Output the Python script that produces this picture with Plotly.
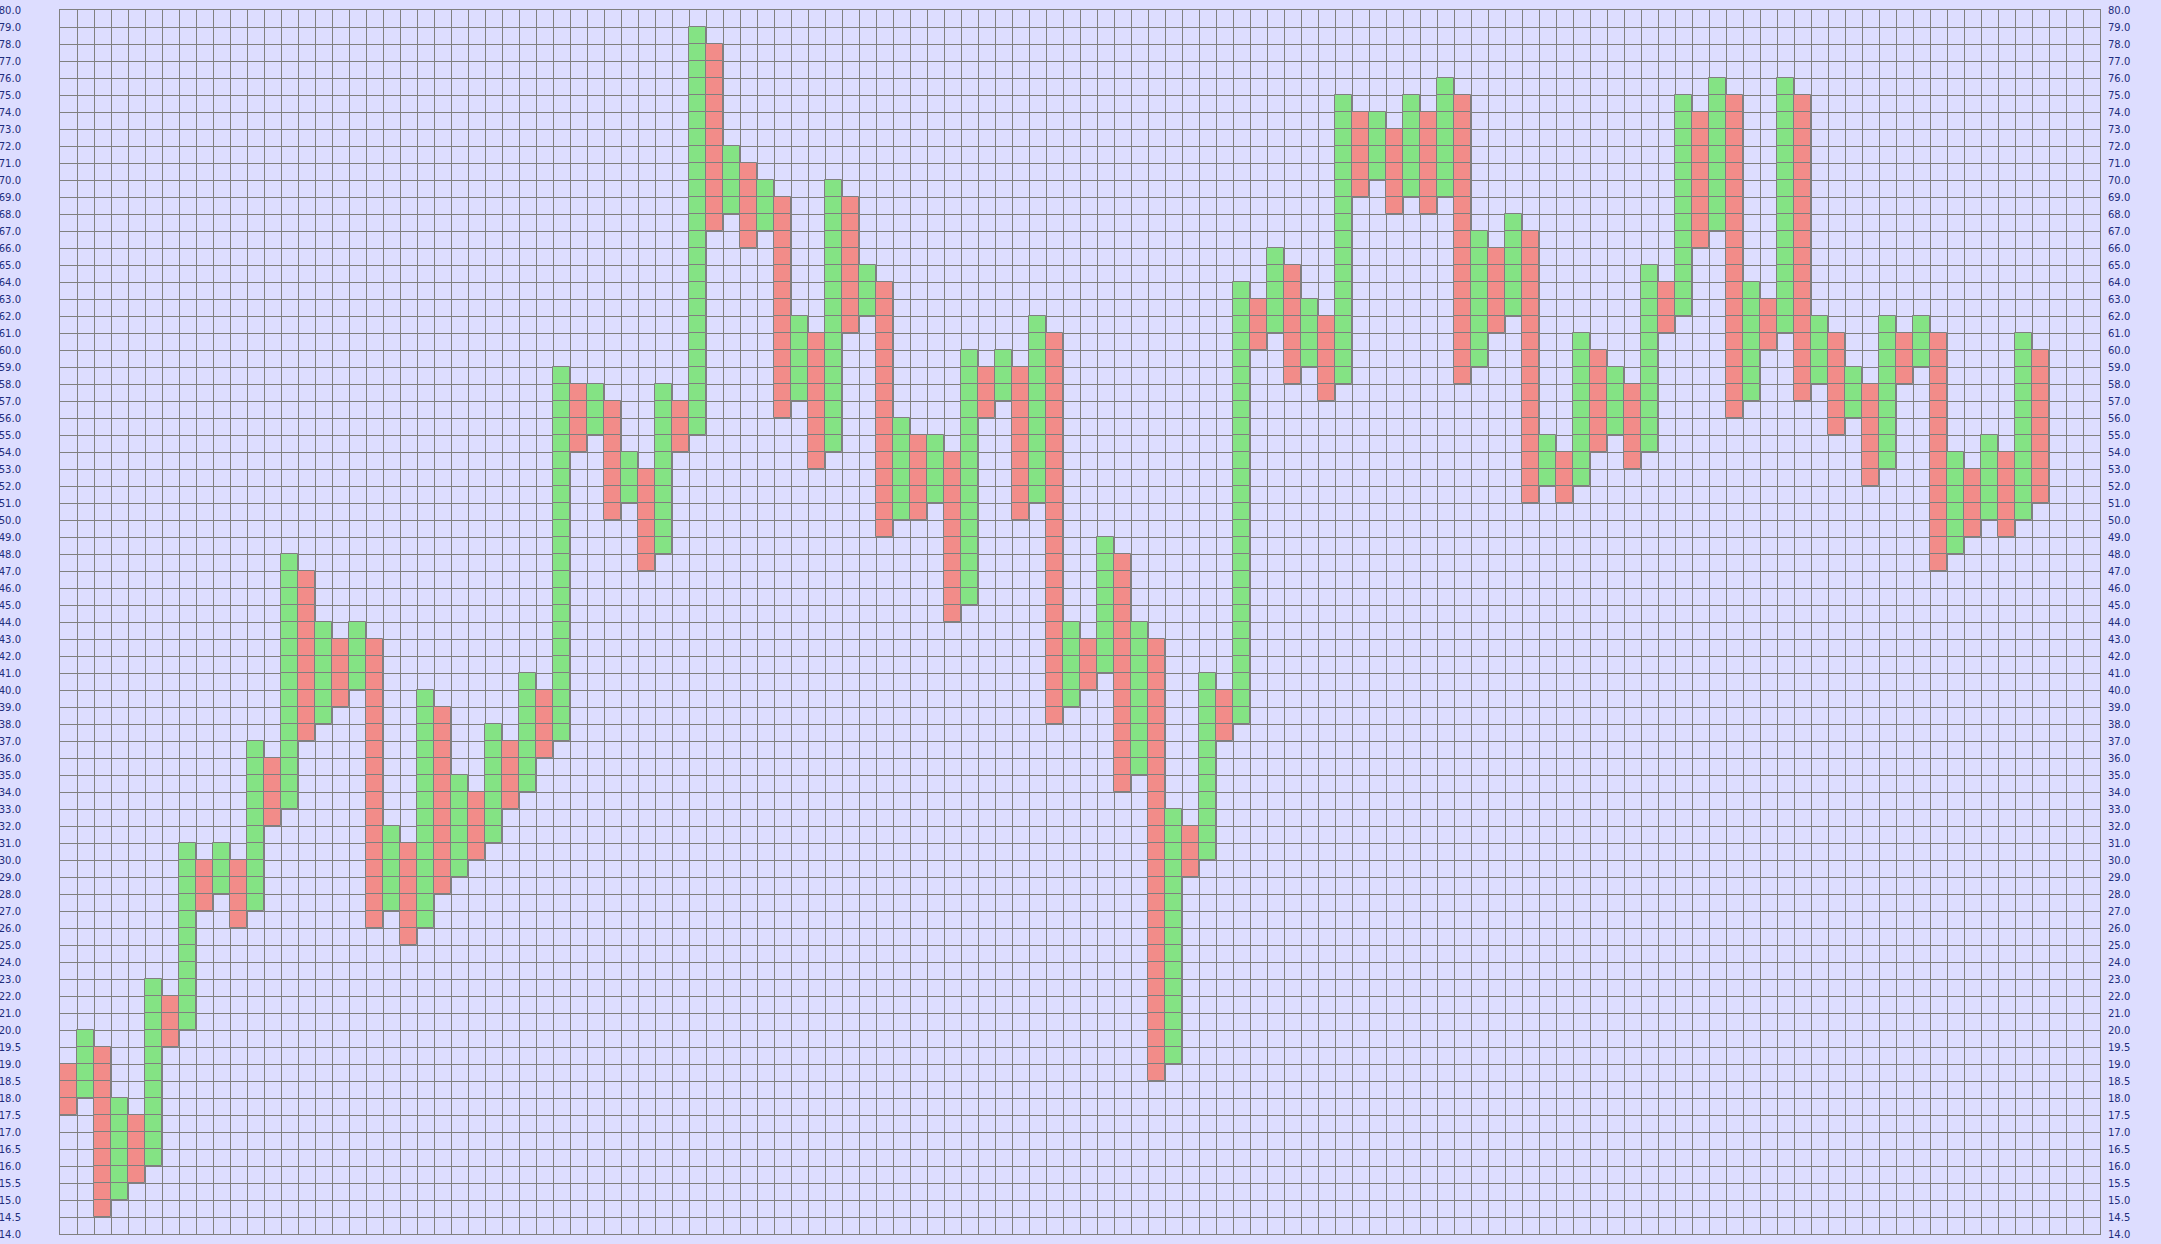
import plotly.graph_objects as go

# Box boundaries (price levels) shown on the vertical axis, bottom to top
price_levels = [14.0, 14.5, 15.0, 15.5, 16.0, 16.5, 17.0, 17.5, 18.0, 18.5, 19.0, 19.5, 20.0,
                21.0, 22.0, 23.0, 24.0, 25.0, 26.0, 27.0, 28.0, 29.0, 30.0,
                31.0, 32.0, 33.0, 34.0, 35.0, 36.0, 37.0, 38.0, 39.0, 40.0,
                41.0, 42.0, 43.0, 44.0, 45.0, 46.0, 47.0, 48.0, 49.0, 50.0,
                51.0, 52.0, 53.0, 54.0, 55.0, 56.0, 57.0, 58.0, 59.0, 60.0,
                61.0, 62.0, 63.0, 64.0, 65.0, 66.0, 67.0, 68.0, 69.0, 70.0,
                71.0, 72.0, 73.0, 74.0, 75.0, 76.0, 77.0, 78.0, 79.0, 80.0]
tick_labels = ["%.1f" % v for v in price_levels]

# Point & figure columns: kind (G = rising / X, R = falling / O), low and high boundaries
column_kind = ["R", "G", "R", "G", "R", "G", "R", "G", "R", "G",
               "R", "G", "R", "G", "R", "G", "R", "G", "R", "G",
               "R", "G", "R", "G", "R", "G", "R", "G", "R", "G",
               "R", "G", "R", "G", "R", "G", "R", "G", "R", "G",
               "R", "G", "R", "G", "R", "G", "R", "G", "R", "G",
               "R", "G", "R", "G", "R", "G", "R", "G", "R", "G",
               "R", "G", "R", "G", "R", "G", "R", "G", "R", "G",
               "R", "G", "R", "G", "R", "G", "R", "G", "R", "G",
               "R", "G", "R", "G", "R", "G", "R", "G", "R", "G",
               "R", "G", "R", "G", "R", "G", "R", "G", "R", "G",
               "R", "G", "R", "G", "R", "G", "R", "G", "R", "G",
               "R", "G", "R", "G", "R", "G", "R"]
column_low = [17.5, 18.0, 14.5, 15.0, 15.5, 16.0, 19.5, 20.0, 27.0, 28.0,
              26.0, 27.0, 32.0, 33.0, 37.0, 38.0, 39.0, 40.0, 26.0, 27.0,
              25.0, 26.0, 28.0, 29.0, 30.0, 31.0, 33.0, 34.0, 36.0, 37.0,
              54.0, 55.0, 50.0, 51.0, 47.0, 48.0, 54.0, 55.0, 67.0, 68.0,
              66.0, 67.0, 56.0, 57.0, 53.0, 54.0, 61.0, 62.0, 49.0, 50.0,
              50.0, 51.0, 44.0, 45.0, 56.0, 57.0, 50.0, 51.0, 38.0, 39.0,
              40.0, 41.0, 34.0, 35.0, 18.5, 19.0, 29.0, 30.0, 37.0, 38.0,
              60.0, 61.0, 58.0, 59.0, 57.0, 58.0, 69.0, 70.0, 68.0, 69.0,
              68.0, 69.0, 58.0, 59.0, 61.0, 62.0, 51.0, 52.0, 51.0, 52.0,
              54.0, 55.0, 53.0, 54.0, 61.0, 62.0, 66.0, 67.0, 56.0, 57.0,
              60.0, 61.0, 57.0, 58.0, 55.0, 56.0, 52.0, 53.0, 58.0, 59.0,
              47.0, 48.0, 49.0, 50.0, 49.0, 50.0, 51.0]
column_high = [19.0, 20.0, 19.5, 18.0, 17.5, 23.0, 22.0, 31.0, 30.0, 31.0,
               30.0, 37.0, 36.0, 48.0, 47.0, 44.0, 43.0, 44.0, 43.0, 32.0,
               31.0, 40.0, 39.0, 35.0, 34.0, 38.0, 37.0, 41.0, 40.0, 59.0,
               58.0, 58.0, 57.0, 54.0, 53.0, 58.0, 57.0, 79.0, 78.0, 72.0,
               71.0, 70.0, 69.0, 62.0, 61.0, 70.0, 69.0, 65.0, 64.0, 56.0,
               55.0, 55.0, 54.0, 60.0, 59.0, 60.0, 59.0, 62.0, 61.0, 44.0,
               43.0, 49.0, 48.0, 44.0, 43.0, 33.0, 32.0, 41.0, 40.0, 64.0,
               63.0, 66.0, 65.0, 63.0, 62.0, 75.0, 74.0, 74.0, 73.0, 75.0,
               74.0, 76.0, 75.0, 67.0, 66.0, 68.0, 67.0, 55.0, 54.0, 61.0,
               60.0, 59.0, 58.0, 65.0, 64.0, 75.0, 74.0, 76.0, 75.0, 64.0,
               63.0, 76.0, 75.0, 62.0, 61.0, 59.0, 58.0, 62.0, 61.0, 62.0,
               61.0, 54.0, 53.0, 55.0, 54.0, 61.0, 60.0]
n_grid_columns = 120

GRID = "#808080"
BG = "#DDDDFF"
FILL = {"G": "#84E384", "R": "#F28C89"}
LABEL_COLOR = "#1F2D7C"

# Expand each column into its individual boxes (one bar segment per box)
boxes = {"G": {"x": [], "base": [], "y": []}, "R": {"x": [], "base": [], "y": []}}
for col, (kind, lo, hi) in enumerate(zip(column_kind, column_low, column_high)):
    lo_i = price_levels.index(lo)
    hi_i = price_levels.index(hi)
    for k in range(lo_i, hi_i):
        boxes[kind]["x"].append(col + 0.5)
        boxes[kind]["base"].append(k)
        boxes[kind]["y"].append(1)

fig = go.Figure()
for kind in ["G", "R"]:
    fig.add_trace(go.Bar(
        x=boxes[kind]["x"], y=boxes[kind]["y"], base=boxes[kind]["base"],
        width=1, marker=dict(color=FILL[kind], line=dict(color=GRID, width=1)),
        showlegend=False, hoverinfo="skip",
    ))

# invisible helper on the right-hand axis so it is drawn
fig.add_trace(go.Scatter(x=[0], y=[0], yaxis="y2", mode="markers",
                         marker=dict(opacity=0), showlegend=False, hoverinfo="skip"))

n_levels = len(price_levels)
tick_font = dict(family="DejaVu Sans", size=10, color=LABEL_COLOR)
fig.update_layout(
    width=2161, height=1244,
    margin=dict(l=60, r=61, t=10, b=10, pad=0),
    paper_bgcolor=BG, plot_bgcolor=BG,
    barmode="overlay", bargap=0,
    font=dict(family="DejaVu Sans", size=10, color=LABEL_COLOR),
    xaxis=dict(range=[0, n_grid_columns], tickvals=list(range(n_grid_columns + 1)),
               showticklabels=False, ticks="", showgrid=True, gridcolor=GRID, gridwidth=1,
               zeroline=False, showline=True, linecolor=GRID, linewidth=1, mirror=True,
               fixedrange=True, automargin=False),
    yaxis=dict(range=[0, n_levels - 1], tickvals=list(range(n_levels)), ticktext=tick_labels,
               ticks="", showgrid=True, gridcolor=GRID, gridwidth=1, zeroline=False,
               showline=True, linecolor=GRID, linewidth=1, mirror=True, side="left",
               ticklabelstandoff=36, fixedrange=True, automargin=False,
               ticklabeloverflow="allow", tickfont=tick_font),
    yaxis2=dict(range=[0, n_levels - 1], tickvals=list(range(n_levels)), ticktext=tick_labels,
                overlaying="y", side="right", anchor="x", ticks="", showgrid=False,
                zeroline=False, showline=False, ticklabelstandoff=7, fixedrange=True,
                automargin=False, ticklabeloverflow="allow", tickfont=tick_font),
)

fig.write_html(
    "out.html",
    config={"displayModeBar": False},
    post_script="document.body.style.margin='0';document.body.style.overflow='hidden';"
                "document.body.style.background='" + BG + "';"
                "document.documentElement.style.background='" + BG + "';",
)
